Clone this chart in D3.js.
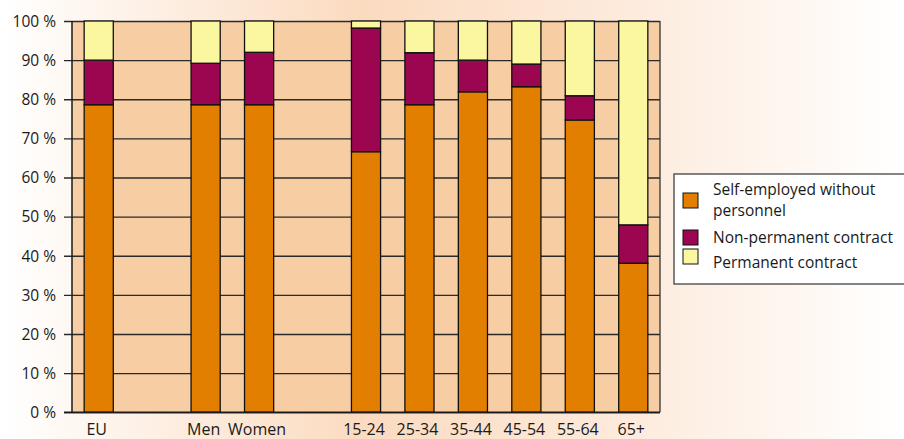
<!DOCTYPE html>
<html><head><meta charset="utf-8">
<script src="https://cdn.jsdelivr.net/npm/d3@7"></script>
<style>
html,body{margin:0;padding:0;background:#fff;}
svg{display:block;}
text{font-family:"Open Sans",sans-serif;fill:#1a1a1a;}
</style></head>
<body>
<svg id="chart" width="904" height="439"></svg>
<script>
const slots = ["EU","gap1","Men","Women","gap2","15-24","25-34","35-44","45-54","55-64","65+"];
const categories = ["EU","Men","Women","15-24","25-34","35-44","45-54","55-64","65+"];
const selfEmployed = [78.6, 78.6, 78.6, 66.6, 78.6, 81.9, 83.2, 74.7, 38.1];
const nonPermanent = [11.4, 10.6, 13.4, 31.6, 13.3, 8.1, 5.8, 6.2, 9.8];
const permanent    = [10.0, 10.8, 8.0, 1.8, 8.1, 10.0, 11.0, 19.1, 52.1];
const seriesNames = ["Self-employed without personnel","Non-permanent contract","Permanent contract"];
const legendLines = [["Self-employed without","personnel"],["Non-permanent contract"],["Permanent contract"]];
const colors = ["#E27F00","#9C0650","#FBF6A0"];
const yTicks = [0,10,20,30,40,50,60,70,80,90,100];

const svg = d3.select("#chart");
const W = 904, H = 439;
const defs = svg.append("defs");
const grad = defs.append("linearGradient").attr("id","bg").attr("x1","0").attr("x2","1").attr("y1","0").attr("y2","0");
grad.append("stop").attr("offset","0").attr("stop-color","#FFFFFF");
grad.append("stop").attr("offset","0.4").attr("stop-color","#FBDBC0");
grad.append("stop").attr("offset","0.7").attr("stop-color","#FDEBDD");
grad.append("stop").attr("offset","1").attr("stop-color","#FFFFFF");
svg.append("rect").attr("width",W).attr("height",H).attr("fill","url(#bg)");

const L = 72, R = 660, T = 21, B = 412.3;
const x = d3.scaleBand().domain(slots).range([L,R]).paddingInner(0).paddingOuter(0);
const y = d3.scaleLinear().domain([0,100]).range([B,T]);
const bw = x.step()*0.545;

svg.append("rect").attr("x",L).attr("y",T).attr("width",R-L).attr("height",B-T).attr("fill","#F7CDA4");

// gridlines + y axis
const yAxis = d3.axisLeft(y).tickValues(yTicks).tickSize(-(R-L)).tickFormat(d=>d+" %");
const gy = svg.append("g").attr("transform",`translate(${L},0)`).call(yAxis);
gy.select(".domain").remove();
gy.selectAll(".tick line").attr("x1",-8).attr("x2",R-L).attr("stroke","#2a2a2a").attr("stroke-width",1.4);
gy.selectAll(".tick text").attr("x",-16).attr("dy","0.34em").style("font-size","15.5px").style("font-family","'Open Sans',sans-serif").attr("fill","#1a1a1a");

// plot borders
svg.append("line").attr("x1",L).attr("x2",L).attr("y1",T).attr("y2",B).attr("stroke","#1a1a1a").attr("stroke-width",1.5);
svg.append("line").attr("x1",R).attr("x2",R).attr("y1",T).attr("y2",B).attr("stroke","#333").attr("stroke-width",1.3);

// stacked bars
const rows = categories.map((c,i)=>({cat:c, s0:selfEmployed[i], s1:nonPermanent[i], s2:permanent[i]}));
const stack = d3.stack().keys(["s0","s1","s2"])(rows);
stack.forEach((layer,k)=>{
  svg.append("g").selectAll("rect").data(layer).join("rect")
    .attr("x",d=>x(d.data.cat)+(x.step()-bw)/2)
    .attr("width",bw)
    .attr("y",d=>y(d[1]))
    .attr("height",d=>y(d[0])-y(d[1]))
    .attr("fill",colors[k])
    .attr("stroke","#111").attr("stroke-width",1.3);
});

// x axis
const xAxis = d3.axisBottom(x).tickSize(0).tickFormat(d=>categories.includes(d)?d:"");
const gx = svg.append("g").attr("transform",`translate(-2,${B})`).call(xAxis);
gx.select(".domain").remove();
gx.selectAll(".tick text").attr("y",22.5).attr("dy","0").style("font-size","16px").style("font-family","'Open Sans',sans-serif").attr("fill","#1a1a1a");
svg.append("line").attr("x1",L-8).attr("x2",R).attr("y1",B).attr("y2",B).attr("stroke","#1a1a1a").attr("stroke-width",1.5);

// legend
const lg = svg.append("g");
lg.append("rect").attr("x",674).attr("y",174).attr("width",240).attr("height",110).attr("fill","#fff").attr("stroke","#333").attr("stroke-width",1.2);
const swY = [193,230,249];
const txtY = [[195,216],[243],[268]];
seriesNames.forEach((n,i)=>{
  lg.append("rect").attr("x",683).attr("y",swY[i]).attr("width",15).attr("height",15).attr("fill",colors[i]).attr("stroke","#111").attr("stroke-width",1);
  const t = lg.append("text").attr("x",713).style("font-size","15.5px");
  legendLines[i].forEach((ln,j)=>{
    t.append("tspan").attr("x",713).attr("y",txtY[i][j]).text(ln);
  });
});
</script>
</body></html>
